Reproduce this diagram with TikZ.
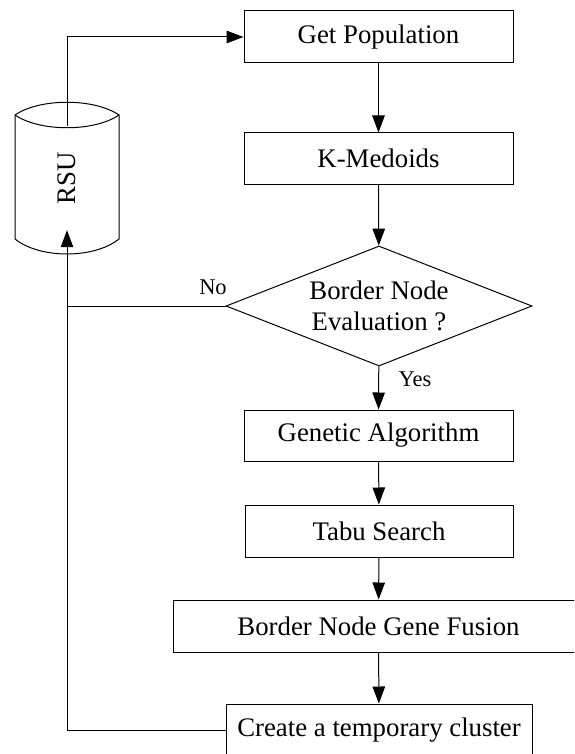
\documentclass[tikz,border=0pt]{standalone}
\usepackage{fontspec}
\setmainfont{Liberation Serif}
\usetikzlibrary{arrows.meta,shapes.geometric}

\tikzset{
  flow/.style={draw, line width=1pt, inner sep=0pt,
    font=\fontsize{26.8}{31}\selectfont, align=center},
  stepbox/.style={flow, rectangle, minimum height=52pt},
  decision/.style={flow, diamond, minimum width=306pt, minimum height=120pt, shape aspect=2.55},
  lbl/.style={font=\fontsize{22.5}{26}\selectfont, inner sep=0pt},
  link/.style={line width=1pt},
  arr/.style={link, -{Triangle[length=17pt,width=12.5pt]}}
}

\begin{document}
\begin{tikzpicture}[x=1pt, y=-1pt]
  \useasboundingbox (0,0) rectangle (574,754);
  \clip (0,0) rectangle (574,754);

  % main column
  \node[stepbox, minimum width=269pt] (get) at (378.5,37) {Get Population};
  \node[stepbox, minimum width=269pt, minimum height=51pt] (kmed) at (378.5,158.5) {K-Medoids};
  \node[decision] (eval) at (379,306) {Border Node\\Evaluation ?};
  \node[stepbox, minimum width=269pt, minimum height=51pt] (ga) at (378.5,435.5) {Genetic Algorithm};
  \node[stepbox, minimum width=268pt] (tabu) at (379,531) {Tabu Search};
  \node[stepbox, minimum width=411pt] (fusion) at (378.5,626) {Border Node Gene Fusion};
  \node[stepbox, minimum width=306pt] (temp) at (379,730) {Create a temporary cluster};

  % RSU storage cylinder
  \node[minimum width=104pt, minimum height=152pt, inner sep=0pt,
        font=\fontsize{26.8}{31}\selectfont, rotate=90] (rsu) at (67,178) {RSU};
  \draw[link]
    (15,115) .. controls (40,98) and (94,98) .. (119,115)
    -- (119,239) .. controls (94,259) and (40,259) .. (15,239) -- cycle;
  \draw[link] (15,115) .. controls (40,132) and (94,132) .. (119,115);

  % connectors
  \draw[arr] (get) -- (kmed);
  \draw[arr] (kmed) -- (eval);
  \draw[arr] (eval) -- (ga);
  \draw[arr] (ga) -- (tabu);
  \draw[arr] (tabu) -- (fusion);
  \draw[arr] (fusion) -- (temp);
  \draw[arr] (temp.west) -| (rsu.west);
  \draw[link] (eval.west) -- (eval.west -| rsu.west);
  \draw[arr] (rsu.east) |- (get.west);

  % branch labels
  \node[lbl] (no) at (213,287) {No};
  \node[lbl] (yes) at (415,379) {Yes};
\end{tikzpicture}
\end{document}
